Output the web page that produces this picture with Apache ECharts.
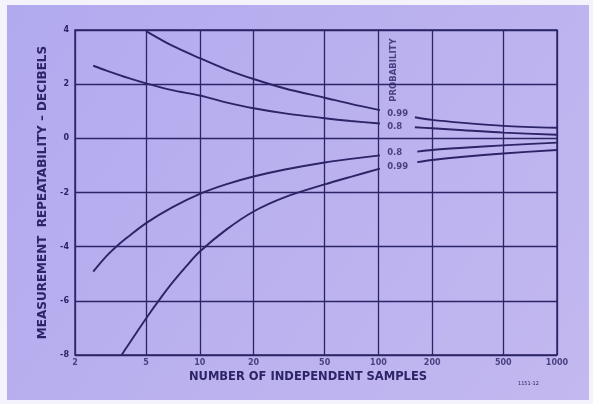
<!DOCTYPE html>
<html>
<head>
<meta charset="utf-8">
<script src="https://cdn.jsdelivr.net/npm/echarts@6/dist/echarts.min.js"></script>
<style>
html,body{margin:0;padding:0;background:#f4f2fb;}
#chart{width:593px;height:404px;}
</style>
</head>
<body>
<div id="chart"></div>
<script>
// ---- data ----
const xTicks = [2, 5, 10, 20, 50, 100, 200, 500, 1000];
const yTicks = [-8, -6, -4, -2, 0, 2, 4];

const upper99Left  = [[5, 3.96], [7, 3.42], [10, 2.96], [14, 2.55], [20, 2.19], [30, 1.84], [50, 1.50], [70, 1.27], [102, 1.04]];
const upper99Right = [[160, 0.78], [200, 0.68], [300, 0.57], [500, 0.46], [1000, 0.39]];
const upper8Left   = [[2.53, 2.68], [3, 2.50], [4, 2.22], [5, 2.03], [7, 1.78], [10, 1.58], [14, 1.33], [20, 1.11], [30, 0.92], [50, 0.74], [70, 0.64], [102, 0.55]];
const upper8Right  = [[160, 0.41], [200, 0.37], [300, 0.30], [500, 0.21], [1000, 0.13]];
const lower8Left   = [[2.53, -4.92], [3, -4.35], [3.5, -3.93], [4, -3.62], [5, -3.13], [7, -2.55], [10, -2.05], [14, -1.70], [20, -1.41], [30, -1.15], [50, -0.89], [70, -0.76], [102, -0.63]];
const lower8Right  = [[165, -0.49], [200, -0.43], [300, -0.35], [500, -0.26], [1000, -0.16]];
const lower99Left  = [[3.65, -8.0], [4, -7.6], [5, -6.65], [6, -5.92], [7, -5.34], [8.5, -4.68], [10, -4.18], [14, -3.38], [20, -2.70], [30, -2.17], [50, -1.70], [70, -1.42], [102, -1.12]];
const lower99Right = [[165, -0.88], [200, -0.80], [300, -0.68], [500, -0.56], [1000, -0.43]];

const probLabels = ['0.99', '0.8', '0.8', '0.99'];
const probLabelY = [0.90, 0.43, -0.55, -1.04];
const probLabelX = 112;
const probTitle = 'PROBABILITY';
const probTitlePos = [122.7, 2.52];

const xTitle = 'NUMBER OF INDEPENDENT SAMPLES';
const yTitle = 'MEASUREMENT  REPEATABILITY – DECIBELS';
const figNote = '1151-12';

// ---- styling ----
const INK = '#2b2466';
const FONT = 'DejaVu Sans';

function curve(data) {
  return {
    type: 'line', data: data, smooth: 0.3, symbol: 'none', clip: true,
    lineStyle: {color: INK, width: 1.9}, z: 5, silent: true
  };
}

const series = [
  curve(upper99Left), curve(upper99Right),
  curve(upper8Left), curve(upper8Right),
  curve(lower8Left), curve(lower8Right),
  curve(lower99Left), curve(lower99Right),
  {
    // vertical grid lines at the log ticks
    type: 'line', data: [], silent: true,
    markLine: {
      symbol: 'none', silent: true, label: {show: false},
      lineStyle: {color: INK, width: 1.3, type: 'solid'},
      data: xTicks.map(v => ({xAxis: v}))
    }
  },
  {
    // x tick labels
    type: 'scatter', symbolSize: 0, silent: true, clip: false,
    data: xTicks.map(v => [v, -8]),
    label: {
      show: true, position: 'bottom', distance: 4,
      formatter: p => String(p.value[0]),
      color: INK, fontFamily: FONT, fontSize: 8, fontWeight: 'bold'
    }
  },
  {
    // probability labels
    type: 'scatter', symbolSize: 0, silent: true, clip: false,
    data: probLabels.map((t, i) => ({value: [probLabelX, probLabelY[i]], name: t})),
    label: {
      show: true, position: 'inside', align: 'left', verticalAlign: 'middle',
      formatter: p => p.name,
      color: INK, fontFamily: FONT, fontSize: 8.5, fontWeight: 'bold'
    }
  },
  {
    type: 'scatter', symbolSize: 0, silent: true, clip: false,
    data: [{value: probTitlePos, name: probTitle}],
    label: {
      show: true, position: 'inside', rotate: 90, align: 'center', verticalAlign: 'middle',
      formatter: p => p.name,
      color: INK, fontFamily: FONT, fontSize: 8.5, fontWeight: 'bold'
    }
  }
];

const chart = echarts.init(document.getElementById('chart'), null, {renderer: 'canvas'});
chart.setOption({
  animation: false,
  backgroundColor: '#f4f2fb',
  graphic: [
    {
      type: 'rect', z: -10, silent: true,
      shape: {x: 7, y: 5, width: 582, height: 395},
      style: {
        fill: new echarts.graphic.LinearGradient(0, 0, 1, 1, [
          {offset: 0, color: '#b2aaef'},
          {offset: 1, color: '#c3b8ef'}
        ])
      }
    },
    {
      type: 'text', left: 518, top: 381, silent: true,
      style: {text: figNote, fill: INK, font: '5px "DejaVu Sans"'}
    }
  ],
  grid: {
    left: 75, right: 36, top: 30, bottom: 49,
    show: true, borderColor: INK, borderWidth: 1.4, backgroundColor: 'transparent'
  },
  xAxis: {
    type: 'log', logBase: 10, min: 2, max: 1000,
    axisLine: {show: false}, axisTick: {show: false},
    axisLabel: {show: false}, splitLine: {show: false}, minorSplitLine: {show: false},
    name: xTitle, nameLocation: 'middle', nameGap: 16,
    nameTextStyle: {color: INK, fontFamily: FONT, fontSize: 11.5, fontWeight: 'bold', padding: [0, 16, 0, 0]}
  },
  yAxis: {
    type: 'value', min: -8, max: 4, interval: 2,
    axisLine: {show: false}, axisTick: {show: false},
    axisLabel: {color: INK, fontFamily: FONT, fontSize: 8, fontWeight: 'bold', margin: 6},
    splitLine: {show: true, lineStyle: {color: INK, width: 1.3}},
    name: yTitle, nameLocation: 'middle', nameGap: 22, nameRotate: 90,
    nameTextStyle: {color: INK, fontFamily: FONT, fontSize: 12, fontWeight: 'bold'}
  },
  series: series
});
</script>
</body>
</html>
